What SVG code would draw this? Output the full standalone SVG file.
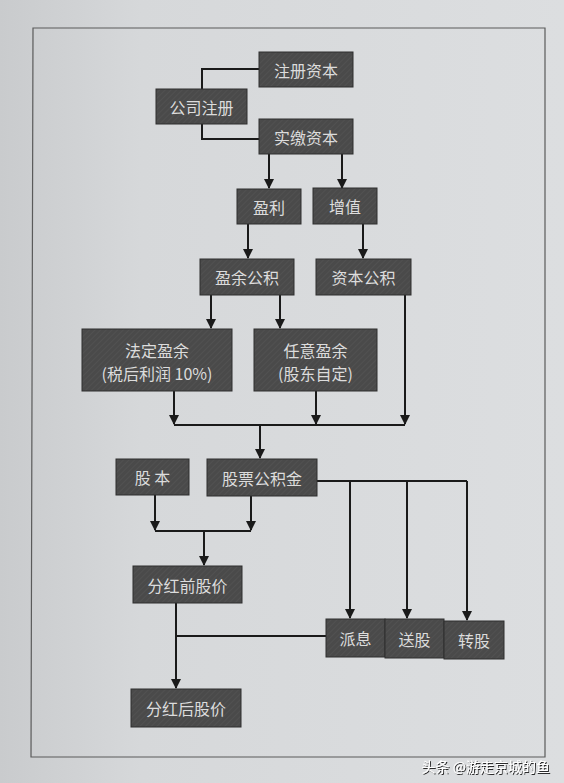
<svg xmlns="http://www.w3.org/2000/svg" width="564" height="783" viewBox="0 0 564 783">
<defs>
<linearGradient id="bg" x1="0" y1="0" x2="1" y2="0">
<stop offset="0" stop-color="#c9cbcd"/>
<stop offset="0.25" stop-color="#d6d8da"/>
<stop offset="1" stop-color="#dcdee0"/>
</linearGradient>
<pattern id="hatch" width="4" height="4" patternUnits="userSpaceOnUse" patternTransform="rotate(45)">
<rect width="4" height="4" fill="#4a4a4a"/>
<line x1="0" y1="0" x2="0" y2="4" stroke="#575757" stroke-width="1"/>
</pattern>
<marker id="arr" viewBox="0 0 10 10" refX="9" refY="5" markerWidth="5" markerHeight="5" orient="auto" markerUnits="strokeWidth">
<path d="M0,0 L10,5 L0,10 z" fill="#1a1a1a"/>
</marker>
<filter id="sh" x="-10%" y="-30%" width="120%" height="160%">
<feDropShadow dx="1" dy="1" stdDeviation="0.6" flood-color="#000" flood-opacity="0.8"/>
</filter>
</defs>
<style>
.box{fill:url(#hatch);stroke:#2e2e2e;stroke-width:1}
.t{font-family:"Noto Sans CJK SC","Noto Sans",sans-serif;font-size:16px;fill:#dcdcdc;text-anchor:middle;dominant-baseline:central}
.c{fill:none;stroke:#1a1a1a;stroke-width:2}
.a{marker-end:url(#arr)}
</style>
<rect width="564" height="783" fill="url(#bg)"/>
<path d="M33,28 L545,28 L545,757 L31,757 Z" fill="none" stroke="#5a5a5a" stroke-width="1.2"/>

<g id="connectors">
<path class="c" d="M202,89 V69 H259"/>
<path class="c" d="M202,124 V139 H259"/>
<path class="c a" d="M269,154 V188"/>
<path class="c a" d="M342,154 V188"/>
<path class="c a" d="M248,224 V258"/>
<path class="c a" d="M363,224 V258"/>
<path class="c a" d="M211,295 V328"/>
<path class="c a" d="M280,295 V328"/>
<path class="c a" d="M405,295 V424"/>
<path class="c a" d="M174,391 V424"/>
<path class="c a" d="M316,391 V424"/>
<path class="c" d="M174,425 H405"/>
<path class="c a" d="M260,425 V458"/>
<path class="c a" d="M155,495 V530"/>
<path class="c a" d="M251,496 V530"/>
<path class="c" d="M155,531 H251"/>
<path class="c a" d="M204,531 V565"/>
<path class="c" d="M317,481 H467"/>
<path class="c a" d="M350,481 V618"/>
<path class="c a" d="M407,481 V618"/>
<path class="c a" d="M467,481 V620"/>
<path class="c a" d="M176,603 V688"/>
<path class="c" d="M176,636 H326"/>
</g>

<g id="n-zczb"><rect class="box" x="259" y="52" width="94" height="35"/><text class="t" x="306" y="70">注册资本</text></g>
<g id="n-gszc"><rect class="box" x="156" y="89" width="91" height="35"/><text class="t" x="201.5" y="107">公司注册</text></g>
<g id="n-sjzb"><rect class="box" x="259" y="119" width="94" height="35"/><text class="t" x="306" y="137">实缴资本</text></g>
<g id="n-yl"><rect class="box" x="237" y="189" width="64" height="35"/><text class="t" x="269" y="207">盈利</text></g>
<g id="n-zz"><rect class="box" x="313" y="188" width="64" height="36"/><text class="t" x="345" y="206">增值</text></g>
<g id="n-yygj"><rect class="box" x="200" y="259" width="94" height="36"/><text class="t" x="247" y="277">盈余公积</text></g>
<g id="n-zbgj"><rect class="box" x="316" y="259" width="95" height="36"/><text class="t" x="363.5" y="277">资本公积</text></g>
<g id="n-fdyy"><rect class="box" x="82" y="329" width="150" height="62"/><text class="t" x="157" y="350">法定盈余</text><text class="t" x="157" y="373">(税后利润 10%)</text></g>
<g id="n-ryyy"><rect class="box" x="254" y="329" width="123" height="62"/><text class="t" x="315.5" y="350">任意盈余</text><text class="t" x="315.5" y="373">(股东自定)</text></g>
<g id="n-gb"><rect class="box" x="116" y="459" width="73" height="36"/><text class="t" x="152.5" y="477">股 本</text></g>
<g id="n-gpgjj"><rect class="box" x="207" y="459" width="110" height="37"/><text class="t" x="262" y="477.5">股票公积金</text></g>
<g id="n-fhqgj"><rect class="box" x="133" y="566" width="109" height="37"/><text class="t" x="187.5" y="584.5">分红前股价</text></g>
<g id="n-px"><rect class="box" x="326" y="619" width="59" height="38"/><text class="t" x="355.5" y="638">派息</text></g>
<g id="n-sg"><rect class="box" x="385" y="619" width="59" height="39"/><text class="t" x="414.5" y="638.5">送股</text></g>
<g id="n-zg"><rect class="box" x="444" y="621" width="60" height="38"/><text class="t" x="474" y="640">转股</text></g>
<g id="n-fhhgj"><rect class="box" x="131" y="689" width="110" height="38"/><text class="t" x="186" y="708">分红后股价</text></g>

<text x="550" y="766" font-family="'Noto Sans CJK SC','Noto Sans',sans-serif" font-size="14" fill="#ffffff" filter="url(#sh)" text-anchor="end" dominant-baseline="central">头条 @游走京城的鱼</text>
</svg>
